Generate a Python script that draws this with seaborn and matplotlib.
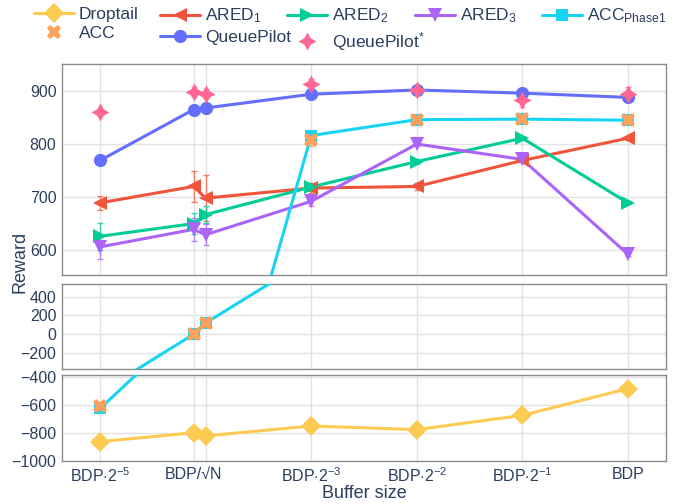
import numpy as np
import pandas as pd
import seaborn as sns
import matplotlib
matplotlib.use("Agg")
import matplotlib.pyplot as plt
from matplotlib.lines import Line2D

# Buffer sizes as log2 of the fraction of BDP (N = 300 flows for BDP/sqrt(N))
buffer_log2 = [-5, np.log2(1 / np.sqrt(300)), -4, -3, -2, -1, 0]
tick_pos = [-5, np.log2(1 / np.sqrt(300)), -4, -3, -2, -1, 0]
tick_labels = [r"BDP$\cdot$2$^{\mathregular{-5}}$", "BDP/\u221aN", "",
               r"BDP$\cdot$2$^{\mathregular{-3}}$", r"BDP$\cdot$2$^{\mathregular{-2}}$",
               r"BDP$\cdot$2$^{\mathregular{-1}}$", "BDP"]

droptail = [-862, -798, -821, -750, -776, -674, -483]
ared1 = [688, 719, 697, 716, 719, 768, 810]
ared1_err = [13, 30, 44, 10, 6, 3, 3]
ared2 = [625, 649, 666, 718, 766, 810, 688]
ared2_err = [25, 20, 16, 8, 4, 3, 3]
ared3 = [605, 638, 628, 691, 799, 770, 591]
ared3_err = [22, 22, 20, 8, 4, 3, 3]
acc_phase1 = [-625, -3, 118, 815, 845, 846, 844]
acc_phase1_err = [8, 6, 6, 8, 4, 3, 3]
acc = [-605, -3, 118, 806, 845, 846, 844]
acc_err = [8, 6, 6, 11, 4, 3, 3]
queuepilot = [768, 864, 867, 893, 901, 895, 887]
queuepilot_err = [9, 5, 5, 4, 4, 4, 4]
queuepilot_star = [859, 898, 894, 913, 901, 882, 893]
queuepilot_star_err = [6, 8, 8, 8, 8, 14, 13]

sns.set_theme(style="white")
plt.rcParams["font.family"] = ["Liberation Sans", "DejaVu Sans"]
plt.rcParams["mathtext.fontset"] = "custom"
plt.rcParams["mathtext.rm"] = "Liberation Sans"
plt.rcParams["mathtext.it"] = "Liberation Sans:italic"
plt.rcParams["mathtext.bf"] = "Liberation Sans:bold"

TXT = "#2a3f5f"
GRID = "#e3e3e3"
FRAME = "#8c8c8c"
LW = 2.2

star4 = (4, 1, 0)
series = [
    ("Droptail", droptail, None, "#FECB52", "D", 10, True),
    ("ARED$_1$", ared1, ared1_err, "#EF553B", "<", 10, True),
    ("ARED$_2$", ared2, ared2_err, "#00CC96", ">", 10, True),
    ("ARED$_3$", ared3, ared3_err, "#AB63FA", "v", 10, True),
    ("ACC$_{\\mathregular{Phase1}}$", acc_phase1, acc_phase1_err, "#19D3F3", "s", 8, True),
    ("ACC", acc, acc_err, "#FFA15A", "X", 10.5, False),
    ("QueuePilot", queuepilot, queuepilot_err, "#636EFA", "o", 9.5, True),
    ("QueuePilot$^{*}$", queuepilot_star, queuepilot_star_err, "#FF6692", star4, 13, False),
]

fig = plt.figure(figsize=(6.76, 5.04), dpi=100)
L, W = 62 / 676, 604 / 676
def box(top, bot):
    return [L, (504 - bot) / 504, W, (bot - top) / 504]

ax_top = fig.add_axes(box(64, 275))
ax_mid = fig.add_axes(box(284, 369))
ax_bot = fig.add_axes(box(375, 461))
axes = [ax_top, ax_mid, ax_bot]
ylims = [(552, 950), (-375, 536), (-1000, -386)]
yticks = [[600, 700, 800, 900], [-200, 0, 200, 400], [-1000, -800, -600, -400]]

for ax, yl, yt in zip(axes, ylims, yticks):
    for name, vals, err, col, mk, ms, line in series:
        df = pd.DataFrame({"x": buffer_log2, "y": vals,
                           "e": err if err is not None else [0] * len(vals)})
        inside = df[(df.y >= yl[0]) & (df.y <= yl[1])]
        if line:
            sns.lineplot(data=df, x="x", y="y", ax=ax, color=col, linewidth=LW,
                         sort=False, legend=False, zorder=3)
        if err is not None and len(inside):
            ax.errorbar(inside.x, inside.y, yerr=inside.e, fmt="none", ecolor=col,
                        elinewidth=1.0, capsize=2.5, capthick=1.0, alpha=0.75, zorder=2)
        if len(inside):
            sns.lineplot(data=inside, x="x", y="y", ax=ax, color=col, linestyle="",
                         marker=mk, markersize=ms, markeredgewidth=0,
                         sort=False, legend=False, zorder=4)
    ax.set_xlim(-5.36, 0.36)
    ax.set_ylim(*yl)
    ax.set_yticks(yt)
    ax.set_xticks(tick_pos)
    ax.set_xlabel("")
    ax.set_ylabel("")
    ax.grid(True, color=GRID, linewidth=1.0)
    ax.set_axisbelow(True)
    for s in ax.spines.values():
        s.set_color(FRAME)
        s.set_linewidth(1.0)
    ax.tick_params(axis="both", colors=TXT, labelsize=11.5, length=0, pad=4)
    if ax is not ax_bot:
        ax.set_xticklabels([])

ax_bot.set_xticklabels(tick_labels)
ax_bot.set_xlabel("Buffer size", fontsize=13, color=TXT, labelpad=0)
fig.text(20 / 676, (504 - 262) / 504, "Reward", rotation=90, ha="center", va="center",
         fontsize=13, color=TXT)

# Legend: five columns across the top, two rows
def handle(col, mk, ms, line):
    return Line2D([], [], color=col, linewidth=LW if line else 0, marker=mk,
                  markersize=ms, markeredgewidth=0)

columns = [[0, 5], [1, 6], [2, 7], [3], [4]]
col_x = [32, 158, 285, 413, 540]
for cx, idx in zip(col_x, columns):
    hs = [handle(series[i][3], series[i][4], series[i][5], series[i][6]) for i in idx]
    labs = [series[i][0] for i in idx]
    fig.legend(hs, labs, loc="upper left", bbox_to_anchor=(cx / 676, 1 - 5 / 504),
               frameon=False, fontsize=12.5, handlelength=2.3, handletextpad=0.3,
               labelspacing=0.25, borderaxespad=0, borderpad=0.1, labelcolor=TXT)

fig.savefig("out.png", dpi=100)
